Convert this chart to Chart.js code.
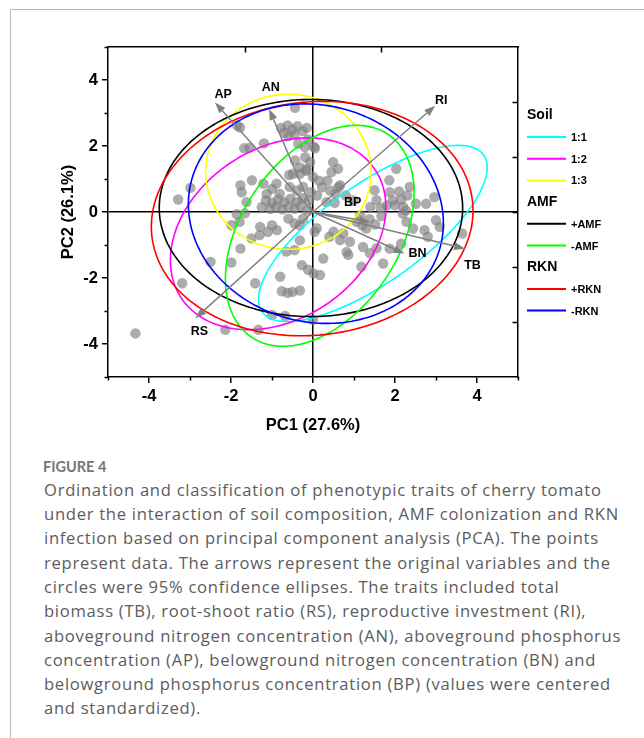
<!DOCTYPE html>
<html>
<head>
<meta charset="utf-8">
<script src="https://cdn.jsdelivr.net/npm/chart.js@4.4.1/dist/chart.umd.min.js"></script>
<style>
  body { margin: 0; background: #fff; width: 644px; height: 738px; overflow: hidden; position: relative; }
  #frame { position: absolute; left: 10px; top: 9px; width: 700px; height: 800px; border-left: 1.5px solid #b8b8b8; border-top: 1.5px solid #b8b8b8; }
  #wrap { position: absolute; left: 0; top: 0; width: 644px; height: 440px; }
  #figlabel { position: absolute; left: 43px; top: 456.7px; font: 700 14.5px Lato, sans-serif; line-height: 20px; color: #767676; }
  #caption { position: absolute; left: 44px; top: 477.8px; font: 400 16.6px "Open Sans", sans-serif; line-height: 24.3px; letter-spacing: 0.72px; color: #5c5c5c; white-space: nowrap; }
</style>
</head>
<body>
<div id="frame"></div>
<div id="wrap"><canvas id="pca" width="644" height="440"></canvas></div>
<div id="figlabel">FIGURE 4</div>
<div id="caption">
  <div>Ordination and classification of phenotypic traits of cherry tomato</div>
  <div>under the interaction of soil composition, AMF colonization and RKN</div>
  <div>infection based on principal component analysis (PCA). The points</div>
  <div>represent data. The arrows represent the original variables and the</div>
  <div>circles were 95% confidence ellipses. The traits included total</div>
  <div>biomass (TB), root-shoot ratio (RS), reproductive investment (RI),</div>
  <div>aboveground nitrogen concentration (AN), aboveground phosphorus</div>
  <div>concentration (AP), belowground nitrogen concentration (BN) and</div>
  <div>belowground phosphorus concentration (BP) (values were centered</div>
  <div>and standardized).</div>
</div>
<script>
// sample scores (PC1, PC2)
const pcX = [
  -0.44, -1.85, -1.78, -0.78, -0.62, -0.5, -0.38, -0.25, -0.7, -0.45, -0.15, -0.6, -0.12,
  -1.68, -1.55, -1.2, -0.36, -0.2, 0.05, 0.02, -0.44, -0.32, -0.17, -0.19, -0.07, -0.15,
  0.49, 0.45, 0.61, -1.49, -1.77, -1.74, -1.62, -2.99, -3.29,
  -1.21, -1.13, -0.89, -0.81, -0.57, -0.4, -0.24, -0.49, -0.32, -0.58, -1.0,
  -1.15, -1.0, -0.85, -0.7, -0.55, -0.4, -0.25, -0.1, -1.25, -1.05, -0.9, -0.75, -0.6, -0.45, -0.3, -0.15,
  0.0, 0.15, 0.35, 0.22, 0.42, 0.55, 0.62, -0.05, 0.1, 0.66, 0.33, 0.53, 0.8, 0.98,
  1.5, 1.55, 1.4, 1.65, 1.8, 2.03, 1.86, 1.87, 2.1, 1.95, 2.15, 2.3, 2.0, 2.2, 2.36, 2.76, 2.96, 2.51, 2.27,
  -1.86, -1.66, -1.99, -1.79, -1.29, -1.1, -1.0, -0.88, -1.3,
  -1.77, -1.5, -2.5, -1.99, -3.19, -1.41, -0.8, -0.65, -0.27, -0.12, -0.45, -0.32,
  -0.76, -0.62, -0.5, -0.32, -1.0, -0.68, -2.14, -1.33, -4.33,
  -0.24, -0.32, 0.09, 0.04, -0.6, -0.45, 0.74, 0.66, 0.9, 0.4, 0.5,
  1.06, 1.2, 1.3, 1.38, 1.52, 1.67, 1.15, 0.82, 0.86, 1.22, 1.39, 1.55, 1.18, 1.71,
  0.25, 0.17, 0.01, 2.19, 2.28, 2.72, 2.8, 2.44, 3.0, 3.09, 1.87, 2.15, 3.64, 0.0
];
const pcY = [
  3.16, 2.62, 2.56, 2.55, 2.62, 2.5, 2.6, 2.45, 2.4, 2.35, 2.55, 2.3, 2.2,
  1.93, 1.95, 2.08, 2.07, 1.97, 1.93, 1.98, 1.56, 1.35, 1.25, 1.66, 1.51, 1.3,
  1.51, 1.21, 1.31, 0.96, 0.81, 0.6, 0.3, 0.73, 0.38,
  0.86, 0.55, 0.86, 0.55, 0.76, 0.65, 0.76, 1.16, 1.16, 1.12, 0.7,
  0.35, 0.28, 0.38, 0.3, 0.4, 0.3, 0.42, 0.35, 0.15, 0.1, 0.15, 0.08, 0.15, 0.1, 0.18, 0.05,
  1.06, 0.95, 0.95, 0.75, 0.65, 0.55, 0.75, 0.6, 0.5, 0.81, 0.3, 0.28, 0.5, 0.35,
  0.66, 0.36, 0.15, 0.12, 0.2, 1.31, 0.96, 0.6, 0.62, 0.35, 0.38, 0.5, 0.2, 0.15, 0.76, 0.25, 0.45, 0.25, 0.05,
  -0.07, -0.04, -0.4, -0.3, -0.45, -0.6, -0.4, -0.55, -0.7,
  -1.11, -0.8, -1.51, -1.53, -2.16, -2.16, -1.96, -1.2, -1.61, -1.75, -1.15, -0.86,
  -2.4, -2.45, -2.42, -2.38, -3.12, -3.15, -3.57, -3.57, -3.68,
  -0.2, -0.4, -0.49, -0.6, -0.2, -0.35, -0.65, -0.85, -0.9, -0.75, -0.6,
  -0.3, -0.4, -0.5, -0.22, -0.38, -0.12, -0.1, -1.21, -1.3, -1.06, -1.25, -1.1, -1.66, -1.56,
  -1.41, -1.91, -1.86, -0.05, -0.3, -0.55, -0.75, -0.5, -0.25, -0.45, -1.11, -0.96, -0.65, -3.27
];

// variable loadings (arrow tips) and label positions
const traits = ['AP', 'AN', 'RI', 'BP', 'BN', 'TB', 'RS'];
const traitX = [-2.39, -1.07, 2.98, 1.4, 2.23, 3.71, -2.87];
const traitY = [3.32, 3.12, 3.22, -0.3, -1.26, -1.11, -3.22];
const labelX = [-2.19, -1.03, 3.13, 0.97, 2.55, 3.89, -2.77];
const labelY = [3.55, 3.78, 3.39, 0.3, -1.26, -1.62, -3.62];

// 95% confidence ellipses
const groups = ['1:1', '1:2', '1:3', '+AMF', '-AMF', '+RKN', '-RKN'];
const groupColors = ['#00ffff', '#ff00ff', '#ffff00', '#000000', '#00ff00', '#ff0000', '#0000ff'];
const ellCx = [1.46, -0.85, -0.6, -0.05, 0.165, -0.02, 0.07];
const ellCy = [-0.65, -0.66, 1.22, 0.12, -0.72, -0.2, -0.05];
const ellA = [3.61, 3.15, 2.02, 3.7, 3.53, 3.96, 3.39];
const ellB = [1.37, 2.33, 2.35, 3.29, 2.01, 3.51, 3.04];
const ellAngle = [43.3, 55, 0, 0, 67.3, 17.3, -64.1];

const legendBlocks = [
  { title: 'Soil', items: [0, 1, 2] },
  { title: 'AMF', items: [3, 4] },
  { title: 'RKN', items: [5, 6] }
];

const FONT = 'Arial, "Liberation Sans", sans-serif';

const overlay = {
  id: 'pcaOverlay',
  afterDatasetsDraw(chart) {
    const { ctx, chartArea: area, scales: { x, y } } = chart;
    ctx.save();
    ctx.beginPath();
    ctx.rect(area.left, area.top, area.width, area.height);
    ctx.clip();

    groups.forEach((g, i) => {
      const th = ellAngle[i] * Math.PI / 180;
      ctx.beginPath();
      for (let k = 0; k <= 240; k++) {
        const t = k / 240 * 2 * Math.PI;
        const ex = ellCx[i] + ellA[i] * Math.cos(th) * Math.cos(t) - ellB[i] * Math.sin(th) * Math.sin(t);
        const ey = ellCy[i] + ellA[i] * Math.sin(th) * Math.cos(t) + ellB[i] * Math.cos(th) * Math.sin(t);
        const px = x.getPixelForValue(ex), py = y.getPixelForValue(ey);
        if (k === 0) ctx.moveTo(px, py); else ctx.lineTo(px, py);
      }
      ctx.closePath();
      ctx.strokeStyle = groupColors[i];
      ctx.lineWidth = 1.6;
      ctx.stroke();
    });

    // loading arrows
    const ox = x.getPixelForValue(0), oy = y.getPixelForValue(0);
    traits.forEach((t, i) => {
      const tx = x.getPixelForValue(traitX[i]), ty = y.getPixelForValue(traitY[i]);
      const ang = Math.atan2(ty - oy, tx - ox);
      const hl = 11, hw = 4;
      const bx = tx - hl * Math.cos(ang), by = ty - hl * Math.sin(ang);
      ctx.strokeStyle = '#808080';
      ctx.fillStyle = '#808080';
      ctx.lineWidth = 1.5;
      ctx.beginPath();
      ctx.moveTo(ox, oy);
      ctx.lineTo(bx, by);
      ctx.stroke();
      ctx.beginPath();
      ctx.moveTo(tx, ty);
      ctx.lineTo(bx + hw * Math.sin(ang), by - hw * Math.cos(ang));
      ctx.lineTo(bx - hw * Math.sin(ang), by + hw * Math.cos(ang));
      ctx.closePath();
      ctx.fill();

      ctx.fillStyle = '#000';
      ctx.font = 'bold 12.5px ' + FONT;
      ctx.textAlign = 'center';
      ctx.textBaseline = 'middle';
      ctx.fillText(t, x.getPixelForValue(labelX[i]), y.getPixelForValue(labelY[i]));
    });
    ctx.restore();
  },
  afterDraw(chart) {
    const { ctx, chartArea: area, scales: { x, y, x2, y2 } } = chart;
    ctx.save();
    ctx.strokeStyle = '#000';
    ctx.lineWidth = 1.5;
    ctx.beginPath();
    // minor ticks on bottom / left
    x.ticks.forEach(t => {
      if (t.value % 2 === 0) return;
      const px = Math.round(x.getPixelForValue(t.value)) + 0.5;
      ctx.moveTo(px, area.bottom); ctx.lineTo(px, area.bottom + 3.5);
    });
    y.ticks.forEach(t => {
      if (t.value % 2 === 0) return;
      const py = Math.round(y.getPixelForValue(t.value)) + 0.5;
      ctx.moveTo(area.left, py); ctx.lineTo(area.left - 3.5, py);
    });
    // inward ticks on the loading axes (top / right)
    x2.ticks.forEach(t => {
      if (t.value <= x2.min || t.value >= x2.max) return;
      const px = Math.round(x2.getPixelForValue(t.value)) + 0.5;
      ctx.moveTo(px, area.top); ctx.lineTo(px, area.top + 5.5);
    });
    y2.ticks.forEach(t => {
      if (t.value <= y2.min || t.value >= y2.max) return;
      const py = Math.round(y2.getPixelForValue(t.value)) + 0.5;
      ctx.moveTo(area.right, py); ctx.lineTo(area.right - 5.5, py);
    });
    ctx.stroke();

    // grouped legend
    const lx = area.right + 9;
    let row = 0;
    const rowY = r => area.top + 68.3 + r * 21.7;
    legendBlocks.forEach(b => {
      ctx.fillStyle = '#000';
      ctx.font = 'bold 14px ' + FONT;
      ctx.textAlign = 'left';
      ctx.textBaseline = 'middle';
      ctx.fillText(b.title, lx, rowY(row));
      row++;
      b.items.forEach(i => {
        const yy = rowY(row);
        ctx.strokeStyle = groupColors[i];
        ctx.lineWidth = 2;
        ctx.beginPath();
        ctx.moveTo(lx, yy); ctx.lineTo(lx + 39, yy);
        ctx.stroke();
        ctx.fillStyle = '#000';
        ctx.font = 'bold 11px ' + FONT;
        ctx.fillText(groups[i], lx + 44, yy + 1);
        row++;
      });
    });
    ctx.restore();
  }
};

const zeroLine = c => (c.tick && c.tick.value === 0 ? '#000' : 'rgba(0,0,0,0)');
const majorTick = c => (c.tick && c.tick.value % 2 === 0 ? '#000' : 'rgba(0,0,0,0)');

new Chart(document.getElementById('pca'), {
  type: 'scatter',
  data: {
    datasets: [{
      label: 'samples',
      data: pcX.map((v, i) => ({ x: v, y: pcY[i] })),
      pointRadius: 5.2,
      pointHoverRadius: 5.2,
      pointBackgroundColor: 'rgba(128,128,128,0.65)',
      pointBorderWidth: 0
    }]
  },
  options: {
    responsive: false,
    animation: false,
    events: [],
    layout: { padding: { left: 55, top: 47, right: 126, bottom: 3 } },
    plugins: { legend: { display: false }, tooltip: { enabled: false } },
    scales: {
      x: {
        type: 'linear', position: 'bottom', min: -5, max: 5,
        afterFit: s => { s.height = 60; },
        ticks: {
          stepSize: 1, autoSkip: false, padding: 4, color: '#000',
          font: { family: FONT, size: 16.5, weight: 'bold' },
          callback: v => (v % 2 === 0 ? v : '')
        },
        grid: { color: zeroLine, lineWidth: 1.5, tickLength: 6, tickColor: majorTick, tickWidth: 1.5 },
        border: { display: true, color: '#000', width: 1.5 },
        title: { display: true, text: 'PC1 (27.6%)', color: '#000', padding: { top: 0, bottom: 2 }, font: { family: FONT, size: 16.5, weight: 'bold' } }
      },
      y: {
        type: 'linear', position: 'left', min: -5, max: 5,
        afterFit: s => { s.width = 53; },
        ticks: {
          stepSize: 1, autoSkip: false, padding: 4, color: '#000',
          font: { family: FONT, size: 16.5, weight: 'bold' },
          callback: v => (v % 2 === 0 ? v : '')
        },
        grid: { color: zeroLine, lineWidth: 1.5, tickLength: 6, tickColor: majorTick, tickWidth: 1.5 },
        border: { display: true, color: '#000', width: 1.5 },
        title: { display: true, text: 'PC2 (26.1%)', color: '#000', padding: { top: 4, bottom: 0 }, font: { family: FONT, size: 16.5, weight: 'bold' } }
      },
      x2: {
        type: 'linear', position: 'top', min: -1.5, max: 1.5,
        afterFit: s => { s.height = 0; },
        ticks: { display: false, stepSize: 1 },
        grid: { display: false },
        border: { display: true, color: '#000', width: 1.5 }
      },
      y2: {
        type: 'linear', position: 'right', min: -1.5, max: 1.5,
        afterFit: s => { s.width = 0; },
        ticks: { display: false, stepSize: 0.5 },
        grid: { display: false },
        border: { display: true, color: '#000', width: 1.5 }
      }
    }
  },
  plugins: [overlay]
});
</script>
</body>
</html>
